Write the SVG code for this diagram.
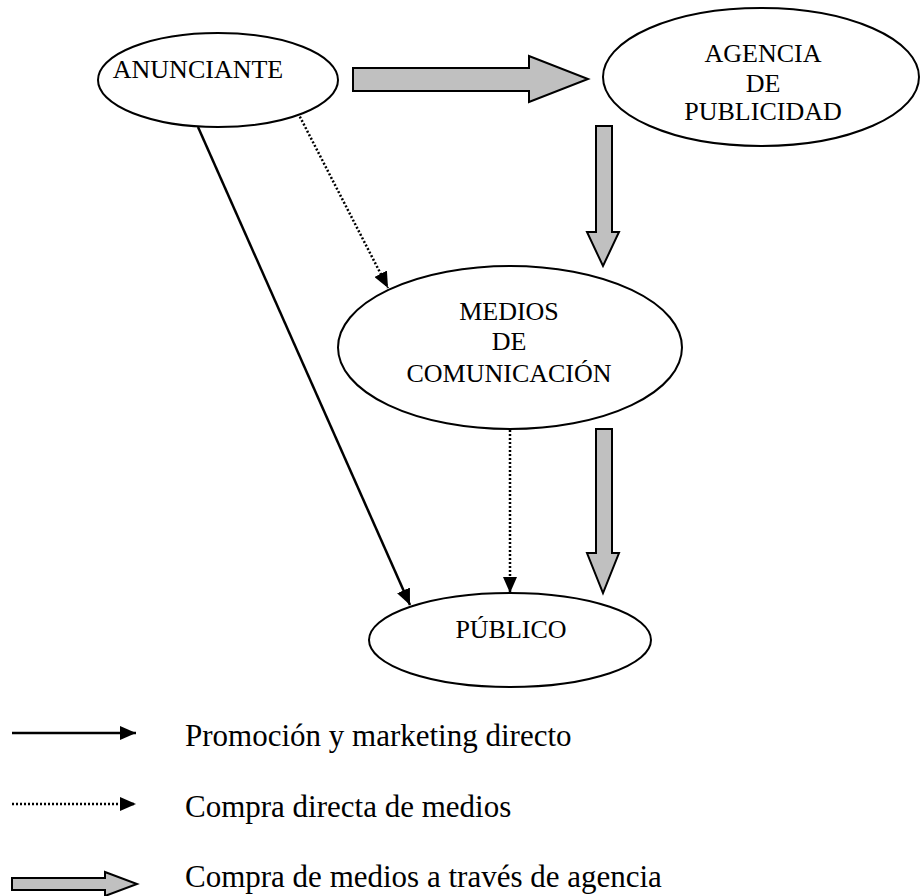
<svg xmlns="http://www.w3.org/2000/svg" width="922" height="896" viewBox="0 0 922 896">
<style>
.node ellipse{fill:#fff;stroke:#000;stroke-width:2}
.t{font-family:"Liberation Serif","Times New Roman",serif;font-size:26px;fill:#000;text-anchor:middle}
.lg{font-family:"Liberation Serif","Times New Roman",serif;font-size:31px;fill:#000}
.solid{stroke:#000;stroke-width:2.5;fill:none}
.dot{stroke:#000;stroke-width:2.5;fill:none;stroke-dasharray:2 2}
.big{fill:#c0c0c0;stroke:#000;stroke-width:2;stroke-linejoin:miter}
</style>
<defs>
<marker id="ah" markerUnits="userSpaceOnUse" markerWidth="16" markerHeight="14" refX="16" refY="7" orient="auto">
<path d="M0,0 L16,7 L0,14 z" fill="#000"/>
</marker>
</defs>
<rect width="922" height="896" fill="#fff"/>
<g id="connectors">
<line class="solid" x1="198" y1="127" x2="410" y2="605" marker-end="url(#ah)"/>
<line class="dot" x1="298" y1="113" x2="388" y2="288" marker-end="url(#ah)"/>
<line class="dot" x1="510" y1="430" x2="510" y2="593" marker-end="url(#ah)"/>
<polygon class="big" points="353,68 529,68 529,56 588,79 529,102 529,91 353,91"/>
<polygon class="big" points="596,126 612,126 612,232 619,232 603,266 587,232 596,232"/>
<polygon class="big" points="596,429 612,429 612,553 619,553 603,593 587,553 596,553"/>
</g>
<g id="anunciante" class="node">
<ellipse cx="218" cy="80" rx="120" ry="47"/>
<text class="t" x="198" y="78">ANUNCIANTE</text>
</g>
<g id="agencia" class="node">
<ellipse cx="761" cy="77" rx="158" ry="69"/>
<text class="t" x="763" y="62">AGENCIA</text>
<text class="t" x="763" y="92">DE</text>
<text class="t" x="763" y="120">PUBLICIDAD</text>
</g>
<g id="medios" class="node">
<ellipse cx="510" cy="347.5" rx="172" ry="81.5"/>
<text class="t" x="509" y="320">MEDIOS</text>
<text class="t" x="509" y="350">DE</text>
<text class="t" x="509" y="382">COMUNICACIÓN</text>
</g>
<g id="publico" class="node">
<ellipse cx="510" cy="640" rx="141" ry="47"/>
<text class="t" x="511" y="638">PÚBLICO</text>
</g>
<g id="legend">
<line class="solid" x1="12" y1="733" x2="136" y2="733" marker-end="url(#ah)"/>
<text class="lg" x="185" y="746">Promoción y marketing directo</text>
<line class="dot" x1="12" y1="804" x2="136" y2="804" marker-end="url(#ah)"/>
<text class="lg" x="185" y="817">Compra directa de medios</text>
<polygon class="big" points="12,878 105,878 105,872 137,884 105,896 105,890 12,890"/>
<text class="lg" x="185" y="887">Compra de medios a través de agencia</text>
</g>
</svg>
